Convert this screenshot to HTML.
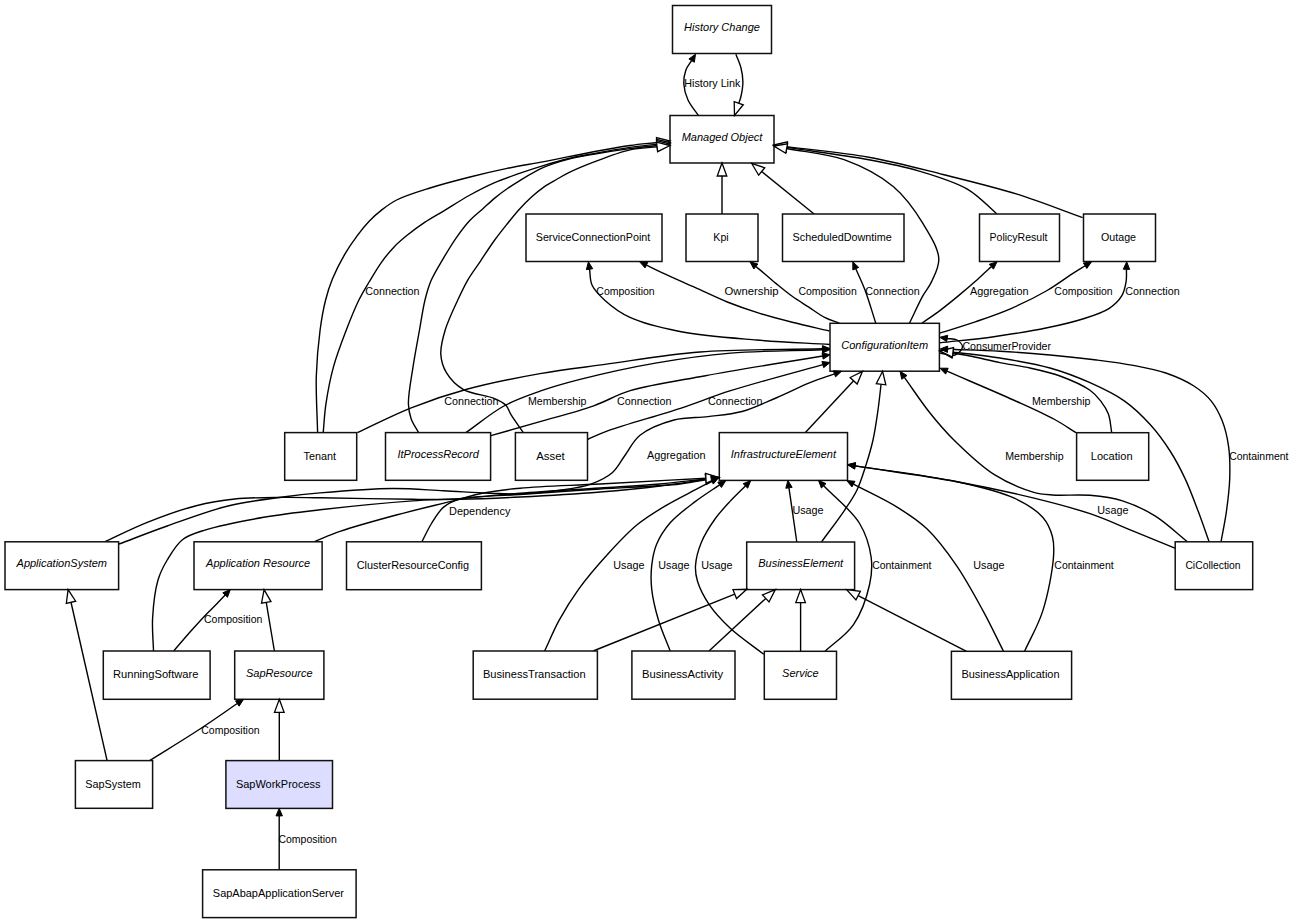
<!DOCTYPE html>
<html><head><meta charset="utf-8"><style>
html,body{margin:0;padding:0;background:#fff;}
svg{display:block;}
text{font-family:"Liberation Sans",sans-serif;font-size:11px;fill:#000;}
.i{font-style:italic;}
.box{fill:#fff;stroke:#111;stroke-width:1.5;}
.e{fill:none;stroke:#000;stroke-width:1.4;}
.af{fill:#000;stroke:#000;stroke-width:1;stroke-linejoin:miter;}
.ah{fill:#fff;stroke:#000;stroke-width:1.3;stroke-linejoin:miter;}
</style></head><body>
<svg width="1295" height="924" viewBox="0 0 1295 924">

<path class="e" d="M698.40,115.50 C694.93,110.33 690.45,105.44 688.00,100.00 C685.68,94.85 684.08,88.99 683.80,83.80 C683.55,79.10 684.36,74.21 685.80,70.20 C687.10,66.58 689.67,63.81 691.61,60.61"/>
<path class="e" d="M735.90,54.20 C737.60,58.80 739.83,63.33 741.00,68.00 C742.14,72.56 742.91,77.13 742.90,81.90 C742.89,86.95 741.63,93.61 740.70,97.50 C740.12,99.91 739.39,101.31 738.73,103.21"/>
<path class="e" d="M722.00,214.00 L722.00,176.00"/>
<path class="e" d="M814.10,214.00 L761.70,171.49"/>
<path class="e" d="M996.80,213.80 C987.10,205.63 979.37,196.12 967.70,189.30 C953.96,181.27 934.95,175.76 918.30,170.80 C901.97,165.94 887.44,163.18 868.80,159.70 C844.96,155.25 814.10,151.52 786.76,147.42"/>
<path class="e" d="M1082.60,217.70 C1060.77,209.87 1039.76,201.26 1017.10,194.20 C993.31,186.79 967.76,180.68 943.00,174.50 C918.32,168.34 894.27,161.79 868.80,157.20 C842.27,152.41 814.13,150.17 786.79,146.66"/>
<path class="e" d="M909.40,323.30 C913.87,314.17 918.63,303.48 922.80,295.90 C925.90,290.28 929.09,287.12 931.60,281.60 C934.61,274.98 939.31,266.87 938.80,258.50 C938.16,248.02 930.12,235.21 923.20,223.90 C915.46,211.25 905.90,197.22 893.50,186.80 C880.00,175.46 861.72,166.08 844.10,159.70 C826.15,153.20 805.81,152.23 786.66,148.49"/>
<path class="e" d="M317.60,432.60 C317.17,413.83 315.78,394.14 316.30,376.30 C316.78,360.10 318.28,343.73 320.10,330.00 C321.57,318.88 323.31,309.03 325.60,300.00 C327.54,292.33 329.48,286.25 332.40,279.10 C335.68,271.09 340.34,261.93 344.70,254.40 C348.62,247.63 352.82,241.54 357.10,235.80 C361.07,230.47 365.12,225.44 369.40,221.00 C373.38,216.87 377.35,213.35 381.80,209.90 C386.40,206.33 390.44,203.11 396.60,200.00 C405.29,195.61 418.29,191.71 430.00,188.00 C442.66,183.99 456.88,180.32 470.00,177.00 C482.57,173.82 494.71,170.97 507.10,168.40 C519.41,165.84 530.89,164.14 544.10,161.60 C559.39,158.66 578.26,154.52 593.50,151.70 C606.57,149.28 618.72,147.09 630.00,145.50 C639.68,144.13 648.05,143.47 657.08,142.45"/>
<path class="e" d="M323.20,432.60 C324.10,423.10 324.41,414.18 325.90,404.10 C327.62,392.53 330.05,379.33 333.40,367.10 C336.82,354.63 341.84,341.64 346.30,330.00 C350.36,319.40 354.63,308.69 358.90,300.00 C362.35,292.98 365.68,287.72 369.40,281.50 C373.29,274.99 377.47,267.78 381.80,261.80 C385.74,256.35 389.82,251.36 394.10,246.90 C398.08,242.76 401.85,239.57 406.50,235.80 C411.96,231.37 418.73,226.37 425.00,222.20 C431.07,218.16 436.79,215.15 443.50,211.10 C451.55,206.24 461.22,199.86 470.00,195.00 C478.28,190.41 486.37,186.23 494.70,182.60 C502.84,179.05 511.14,176.29 519.40,173.40 C527.60,170.53 535.84,167.79 544.10,165.30 C552.30,162.83 560.53,160.46 568.80,158.50 C577.00,156.56 584.45,155.27 593.50,153.60 C604.47,151.58 618.72,149.05 630.00,147.40 C639.69,145.98 648.06,145.19 657.10,144.08"/>
<path class="e" d="M418.60,432.60 C416.13,428.07 412.90,423.78 411.20,419.00 C409.52,414.27 408.59,410.20 408.40,404.10 C408.10,394.54 411.16,379.42 413.00,367.10 C414.85,354.72 417.40,341.71 419.50,330.00 C421.39,319.47 422.79,308.89 425.00,300.00 C426.81,292.68 428.36,286.92 431.20,280.30 C434.35,272.96 439.29,265.23 443.50,258.10 C447.54,251.26 451.46,244.63 455.90,238.30 C460.30,232.04 465.22,225.40 470.00,220.30 C474.08,215.95 478.28,212.90 482.40,209.20 C486.51,205.50 490.51,201.55 494.70,198.10 C498.75,194.76 502.93,191.72 507.10,188.80 C511.16,185.96 514.53,183.72 519.40,180.80 C526.15,176.75 535.69,170.86 544.10,167.20 C552.17,163.69 560.50,161.28 568.80,159.10 C576.97,156.96 584.45,155.79 593.50,154.20 C604.46,152.27 618.73,150.11 630.00,148.60 C639.69,147.30 648.06,146.52 657.09,145.49"/>
<path class="e" d="M523.30,432.60 C519.30,426.80 514.45,420.28 511.30,415.20 C508.97,411.44 508.36,407.83 505.70,405.10 C502.89,402.22 499.41,400.68 494.60,398.60 C486.92,395.28 471.47,394.27 463.10,389.30 C456.00,385.08 450.13,378.82 446.40,372.60 C443.03,366.97 441.18,360.72 440.80,354.10 C440.38,346.64 442.72,338.33 445.20,330.00 C448.06,320.40 453.64,309.04 457.80,300.00 C461.33,292.34 464.48,285.62 468.30,279.10 C471.91,272.94 475.88,267.90 480.00,261.80 C484.62,254.95 489.90,246.63 494.70,240.00 C498.91,234.18 502.93,229.19 507.10,224.00 C511.17,218.93 515.18,213.82 519.40,209.20 C523.43,204.79 527.57,200.60 531.80,196.80 C535.81,193.20 539.89,189.83 544.10,186.90 C548.13,184.10 552.36,181.88 556.50,179.50 C560.59,177.15 563.92,175.08 568.80,172.70 C575.54,169.41 584.39,165.66 593.50,162.20 C604.41,158.05 618.61,152.41 630.00,149.90 C639.58,147.79 648.05,147.91 657.08,146.92"/>
<path class="e" d="M830.00,344.50 C805.50,343.00 781.33,342.16 756.50,340.00 C730.88,337.77 701.36,335.68 678.60,331.20 C660.33,327.60 643.14,323.54 630.00,317.40 C619.84,312.65 611.67,306.41 605.00,300.40 C599.56,295.49 594.53,290.54 592.00,285.00 C589.75,280.06 590.37,274.47 589.55,269.21"/>
<path class="e" d="M829.50,331.00 C817.07,328.10 804.18,325.34 792.20,322.30 C780.97,319.45 770.47,316.76 759.70,313.40 C748.83,310.00 738.01,306.29 727.30,302.00 C716.41,297.64 705.71,292.26 694.90,287.40 C684.08,282.53 671.30,276.95 662.40,272.80 C656.12,269.87 651.77,267.65 646.45,265.07"/>
<path class="e" d="M839.50,323.30 C834.53,321.33 829.54,319.95 824.60,317.40 C819.17,314.60 813.80,310.41 808.40,306.90 C803.00,303.38 797.52,300.14 792.20,296.30 C786.68,292.33 781.29,287.82 775.90,283.40 C770.45,278.93 763.25,272.54 759.70,269.60 C757.99,268.18 757.13,267.53 755.84,266.50"/>
<path class="e" d="M875.80,323.30 C872.20,312.20 868.70,299.79 865.00,290.00 C861.99,282.03 858.85,275.79 855.78,268.68"/>
<path class="e" d="M921.90,323.30 C928.10,318.90 934.43,314.67 940.50,310.10 C946.56,305.54 952.41,300.76 958.30,295.90 C964.25,290.99 970.66,285.55 976.00,280.80 C980.57,276.73 985.80,271.63 988.50,269.20 C989.77,268.06 990.40,267.55 991.34,266.72"/>
<path class="e" d="M939.60,333.20 C951.73,329.33 963.98,325.76 976.00,321.60 C987.98,317.45 999.88,313.41 1011.60,308.30 C1023.58,303.08 1036.29,296.77 1047.10,290.50 C1056.79,284.87 1066.65,277.32 1073.70,272.80 C1078.27,269.87 1081.31,268.10 1085.12,265.74"/>
<path class="e" d="M939.60,342.90 C957.67,340.83 975.84,339.22 993.80,336.70 C1011.67,334.19 1031.19,331.10 1047.10,327.80 C1060.19,325.09 1071.72,322.51 1082.60,319.00 C1092.25,315.89 1102.43,312.84 1109.30,308.30 C1114.67,304.76 1118.89,300.57 1121.70,295.90 C1124.30,291.59 1125.33,286.24 1126.10,281.60 C1126.80,277.39 1126.35,273.40 1126.47,269.30"/>
<path class="e" d="M939.80,353.00 C944.87,353.67 951.08,356.40 955.00,355.00 C958.32,353.81 962.39,349.63 962.50,347.00 C962.60,344.63 959.45,341.43 957.00,340.00 C954.42,338.49 950.47,338.98 947.21,338.46"/>
<path class="e" d="M357.40,432.60 C375.33,424.33 392.91,415.03 411.20,407.80 C429.39,400.61 446.83,394.75 466.80,389.30 C489.37,383.15 516.25,377.82 540.00,373.60 C562.24,369.65 581.27,367.63 605.00,364.40 C633.66,360.50 666.25,354.64 700.00,352.00 C738.17,349.02 781.67,349.86 822.50,348.80"/>
<path class="e" d="M465.90,432.60 C478.57,423.73 491.00,413.05 503.90,406.00 C515.73,399.54 527.54,395.58 540.00,391.20 C552.88,386.67 564.49,383.36 580.00,379.40 C601.08,374.02 630.11,367.49 655.30,363.10 C680.31,358.74 704.19,355.33 730.60,353.10 C759.65,350.65 791.87,350.88 822.50,349.77"/>
<path class="e" d="M490.90,435.60 C507.27,430.97 523.28,426.54 540.00,421.70 C557.51,416.63 577.65,411.48 593.70,405.80 C607.17,401.03 615.60,395.13 630.20,390.70 C650.56,384.53 677.60,380.83 705.50,375.70 C740.20,369.32 783.57,362.53 822.60,355.95"/>
<path class="e" d="M587.50,439.50 C594.20,436.63 598.70,434.17 607.60,430.90 C624.21,424.79 658.44,415.56 680.40,408.30 C698.74,402.24 711.24,396.84 730.60,390.70 C756.59,382.47 792.06,373.26 822.78,364.55"/>
<path class="e" d="M119.00,544.00 C135.07,538.00 150.07,532.01 167.20,526.00 C186.46,519.24 208.91,510.59 229.00,505.70 C247.43,501.22 266.67,499.22 283.00,497.00 C296.47,495.17 305.59,494.13 320.00,492.90 C340.14,491.17 370.53,488.67 392.60,488.50 C411.09,488.36 427.01,490.00 443.60,490.80 C459.41,491.57 476.12,492.66 489.90,493.20 C501.01,493.64 509.27,494.35 520.00,494.00 C532.40,493.59 547.57,492.12 560.00,490.30 C571.01,488.69 581.74,487.40 590.90,484.10 C598.98,481.19 606.72,477.53 612.50,472.50 C617.85,467.84 620.55,461.40 624.90,455.50 C629.67,449.04 633.03,440.89 640.00,435.30 C648.47,428.51 662.41,423.10 674.00,420.00 C685.10,417.03 696.68,418.01 708.00,416.60 C719.35,415.18 730.84,414.51 742.00,411.50 C753.51,408.39 764.72,402.77 776.00,398.00 C787.39,393.18 799.52,386.95 810.00,382.70 C818.75,379.15 826.30,376.80 834.45,373.85"/>
<path class="e" d="M805.40,432.60 L853.64,380.81"/>
<path class="e" d="M821.50,541.90 C829.17,531.37 838.14,519.78 844.50,510.30 C849.47,502.89 853.48,497.31 857.00,490.00 C860.72,482.28 863.32,473.38 866.00,465.00 C868.65,456.71 871.05,448.77 873.00,440.00 C875.11,430.51 876.62,419.64 878.00,410.00 C879.27,401.09 880.04,392.81 881.07,384.21"/>
<path class="e" d="M1076.00,432.70 C1068.90,428.30 1063.06,424.05 1054.70,419.50 C1043.57,413.44 1029.77,407.38 1014.60,400.50 C995.03,391.63 969.46,380.95 946.88,371.18"/>
<path class="e" d="M1111.70,432.60 C1110.60,426.43 1110.41,419.57 1108.40,414.10 C1106.60,409.21 1103.85,405.06 1100.80,401.10 C1097.73,397.12 1094.88,393.75 1090.00,390.30 C1082.79,385.21 1070.18,379.75 1060.00,376.00 C1050.16,372.38 1040.05,370.24 1030.00,368.00 C1020.05,365.78 1009.98,364.60 1000.00,362.60 C989.98,360.60 978.63,357.67 970.00,356.00 C963.50,354.74 958.55,354.09 952.82,353.14"/>
<path class="e" d="M1209.10,541.80 C1205.50,531.73 1202.17,521.81 1198.30,511.60 C1194.26,500.93 1190.13,489.41 1185.30,479.10 C1180.69,469.25 1175.85,459.98 1170.10,451.00 C1164.30,441.94 1157.99,433.17 1150.60,425.00 C1142.90,416.49 1134.38,408.02 1124.60,401.10 C1114.30,393.81 1102.15,388.13 1090.00,382.70 C1077.33,377.04 1064.24,372.02 1050.00,368.00 C1034.42,363.61 1014.58,360.43 1000.00,358.00 C988.76,356.13 978.61,355.00 970.00,354.00 C963.52,353.24 958.62,352.86 952.94,352.29"/>
<path class="e" d="M1221.00,541.80 C1222.80,531.73 1224.96,521.88 1226.40,511.60 C1227.88,500.99 1229.33,489.95 1229.70,479.10 C1230.06,468.28 1230.03,456.76 1228.60,446.60 C1227.31,437.38 1225.20,428.46 1222.10,420.60 C1219.27,413.43 1215.94,406.83 1211.30,401.10 C1206.58,395.27 1200.76,390.43 1193.90,386.00 C1185.95,380.86 1175.69,376.40 1165.80,373.00 C1155.53,369.47 1144.52,367.53 1133.30,365.40 C1121.46,363.15 1109.50,361.65 1096.50,360.00 C1081.92,358.15 1065.79,356.45 1050.00,355.00 C1033.65,353.50 1016.87,352.15 1000.00,351.20 C982.75,350.23 965.06,349.92 947.59,349.28"/>
<path class="e" d="M1187.40,541.80 C1176.60,533.17 1166.24,522.87 1155.00,515.90 C1144.55,509.43 1133.57,504.24 1122.50,500.80 C1111.88,497.50 1101.27,496.29 1090.00,495.30 C1077.96,494.24 1062.85,495.82 1052.40,495.00 C1044.85,494.41 1040.39,494.27 1033.00,492.10 C1022.14,488.91 1006.87,482.62 994.40,474.70 C980.40,465.81 965.31,451.23 953.90,440.00 C944.52,430.77 937.86,422.84 930.00,413.00 C921.33,402.15 912.92,389.26 904.38,377.39"/>
<path class="e" d="M1175.50,548.40 C1161.43,542.63 1147.47,536.85 1133.30,531.10 C1118.97,525.28 1105.58,518.97 1090.00,513.70 C1072.46,507.76 1053.52,502.92 1033.00,497.90 C1009.30,492.10 983.31,486.56 955.80,481.50 C924.54,475.75 888.67,471.07 855.11,465.85"/>
<path class="e" d="M1024.60,651.30 C1030.63,637.90 1038.00,625.78 1042.70,611.10 C1047.96,594.67 1052.51,570.79 1053.50,557.00 C1054.10,548.59 1054.14,543.06 1052.40,536.50 C1050.61,529.78 1047.86,523.03 1042.70,517.20 C1036.14,509.80 1025.53,503.35 1013.70,497.90 C998.15,490.74 977.92,486.33 955.80,481.50 C927.01,475.21 888.67,471.07 855.11,465.85"/>
<path class="e" d="M1003.50,651.30 C996.73,637.90 990.69,624.83 983.20,611.10 C975.05,596.16 965.95,579.20 956.20,565.10 C947.09,551.92 937.33,538.74 926.90,528.80 C917.75,520.07 908.88,514.46 897.90,507.60 C884.91,499.48 868.25,491.94 853.43,484.10"/>
<path class="e" d="M825.10,651.30 C834.57,642.40 846.15,635.38 853.50,624.60 C861.28,613.18 866.99,596.36 869.70,584.00 C871.83,574.28 872.43,566.38 871.10,557.00 C869.56,546.18 865.96,533.89 859.30,523.00 C851.33,509.97 835.56,498.21 823.69,485.82"/>
<path class="e" d="M796.80,542.00 L788.97,487.82"/>
<path class="e" d="M763.80,654.30 C752.53,645.53 739.56,636.96 730.00,628.00 C721.82,620.34 714.74,612.77 709.20,604.60 C704.14,597.14 699.69,588.46 697.50,581.30 C695.80,575.74 695.16,571.39 695.50,565.70 C695.92,558.65 698.31,549.88 701.40,542.30 C704.67,534.29 710.02,526.02 715.00,519.00 C719.61,512.50 724.86,506.98 730.00,501.40 C735.00,495.97 740.27,491.08 745.41,485.92"/>
<path class="e" d="M670.20,651.00 C666.30,640.73 661.60,630.61 658.50,620.20 C655.46,609.97 652.75,598.78 651.70,589.10 C650.80,580.80 650.84,573.28 651.70,565.70 C652.53,558.36 653.73,551.20 656.60,544.30 C659.69,536.87 664.33,529.54 670.20,522.80 C676.90,515.11 687.00,507.88 695.50,501.40 C703.48,495.31 711.58,490.36 719.62,484.84"/>
<path class="e" d="M544.60,651.00 C549.47,640.73 553.65,630.33 559.20,620.20 C564.96,609.69 571.15,599.53 578.70,589.10 C587.12,577.47 597.91,564.95 607.90,554.00 C617.40,543.59 626.94,533.14 637.10,524.80 C646.47,517.11 656.42,511.22 666.30,505.30 C675.89,499.55 687.16,494.09 695.50,489.70 C701.72,486.43 706.39,484.06 711.84,481.25"/>
<path class="e" d="M104.50,541.80 C118.97,535.23 132.89,528.04 147.90,522.10 C163.42,515.96 180.86,509.61 196.20,505.70 C209.65,502.27 221.17,500.40 234.80,499.00 C249.92,497.44 267.99,497.57 283.00,497.40 C296.15,497.25 304.88,497.60 320.00,497.80 C343.93,498.12 387.11,499.09 412.70,499.30 C430.78,499.45 442.51,499.61 459.00,499.30 C477.94,498.94 498.30,498.09 520.00,497.00 C544.87,495.75 575.27,494.01 600.00,492.00 C621.45,490.26 641.35,488.28 660.00,486.00 C676.38,484.00 690.69,481.57 706.03,479.36"/>
<path class="e" d="M153.50,651.00 C153.20,640.03 151.96,629.44 152.60,618.10 C153.30,605.84 154.92,590.49 158.00,580.00 C160.33,572.07 163.31,566.50 167.20,560.00 C171.40,552.97 176.21,544.54 182.70,539.50 C189.11,534.52 196.19,532.83 205.80,529.80 C220.58,525.15 244.47,520.65 263.70,517.30 C282.53,514.02 298.88,512.22 320.00,509.80 C347.04,506.70 387.09,502.76 412.70,500.90 C430.77,499.58 442.52,499.74 459.00,498.60 C477.95,497.29 498.28,494.87 520.00,493.20 C544.85,491.29 575.25,489.63 600.00,488.00 C621.44,486.59 641.35,485.65 660.00,484.00 C676.36,482.55 690.65,480.62 705.98,478.93"/>
<path class="e" d="M313.90,541.80 C322.60,538.33 329.51,535.00 340.00,531.40 C355.27,526.15 377.96,520.00 397.20,514.80 C416.59,509.56 440.22,504.12 455.90,500.10 C466.41,497.40 472.58,495.09 482.20,493.20 C493.60,490.96 505.03,489.58 520.00,488.20 C541.69,486.20 571.47,485.53 600.00,484.00 C632.83,482.24 670.61,480.14 705.92,478.21"/>
<path class="e" d="M421.90,541.80 C425.00,535.87 427.63,529.73 431.20,524.00 C434.85,518.15 438.67,511.28 443.60,507.10 C448.08,503.30 451.90,501.29 459.00,499.30 C472.37,495.55 498.29,496.10 520.00,494.50 C544.86,492.67 573.33,490.75 600.00,489.00 C626.66,487.25 659.54,486.33 680.00,484.00 C692.85,482.54 700.80,480.55 711.20,478.83"/>
<path class="e" d="M593.20,651.00 L734.74,594.15"/>
<path class="e" d="M709.00,651.00 L765.76,598.43"/>
<path class="e" d="M800.60,651.30 L800.60,602.60"/>
<path class="e" d="M966.50,651.30 L858.16,595.55"/>
<path class="e" d="M107.10,760.60 L70.99,602.27"/>
<path class="e" d="M149.60,760.60 C166.40,750.07 184.55,739.11 200.00,729.00 C213.46,720.19 224.87,712.02 237.31,703.53"/>
<path class="e" d="M279.30,760.60 L279.30,712.30"/>
<path class="e" d="M274.40,651.00 L266.25,602.42"/>
<path class="e" d="M173.70,651.00 C179.37,644.43 185.20,637.50 190.70,631.30 C195.74,625.63 200.73,620.09 205.40,615.20 C209.47,610.94 213.59,607.11 217.10,603.50 C220.05,600.47 222.46,597.86 225.14,595.04"/>
<path class="e" d="M279.20,869.80 L279.20,815.90"/>
<rect class="box" x="672.5" y="5.5" width="99.0" height="48.0"/>
<rect class="box" x="670.0" y="115.5" width="104.0" height="47.5"/>
<rect class="box" x="526.0" y="214.0" width="136.0" height="47.5"/>
<rect class="box" x="686.0" y="214.0" width="72.0" height="47.5"/>
<rect class="box" x="782.5" y="214.0" width="121.5" height="47.5"/>
<rect class="box" x="979.5" y="214.0" width="80.0" height="47.5"/>
<rect class="box" x="1083.5" y="214.0" width="72.0" height="47.5"/>
<rect class="box" x="830.0" y="323.3" width="109.4" height="47.9"/>
<rect class="box" x="284.7" y="432.6" width="72.0" height="47.7"/>
<rect class="box" x="385.5" y="432.6" width="105.1" height="47.7"/>
<rect class="box" x="515.4" y="432.6" width="72.1" height="47.7"/>
<rect class="box" x="719.3" y="432.6" width="128.2" height="47.8"/>
<rect class="box" x="1076.6" y="432.7" width="72.1" height="47.6"/>
<rect class="box" x="5.0" y="541.8" width="113.6" height="47.8"/>
<rect class="box" x="194.0" y="541.8" width="128.1" height="47.8"/>
<rect class="box" x="346.5" y="541.8" width="134.9" height="47.9"/>
<rect class="box" x="746.7" y="542.0" width="107.9" height="47.6"/>
<rect class="box" x="1175.2" y="541.8" width="77.5" height="47.8"/>
<rect class="box" x="103.3" y="651.0" width="106.8" height="48.3"/>
<rect class="box" x="234.7" y="651.0" width="89.2" height="48.3"/>
<rect class="box" x="473.2" y="651.0" width="124.2" height="48.2"/>
<rect class="box" x="631.9" y="651.0" width="103.1" height="48.2"/>
<rect class="box" x="764.3" y="651.3" width="72.2" height="48.0"/>
<rect class="box" x="951.4" y="651.3" width="120.2" height="48.0"/>
<rect class="box" x="75.4" y="760.6" width="77.2" height="47.7"/>
<rect class="box" x="225.9" y="760.6" width="106.6" height="47.8" style="fill:#ddddff"/>
<rect class="box" x="202.6" y="869.8" width="153.5" height="47.8"/>
<path d="M695.50,54.20 L694.35,62.27 L688.88,58.95 Z" class="af"/>
<path d="M734.50,115.50 L734.20,101.65 L743.27,104.77 Z" class="ah"/>
<path d="M722.00,163.00 L726.80,176.00 L717.20,176.00 Z" class="ah"/>
<path d="M751.60,163.30 L764.72,167.76 L758.67,175.22 Z" class="ah"/>
<path d="M773.90,145.50 L787.47,142.68 L786.05,152.17 Z" class="ah"/>
<path d="M773.90,145.00 L787.41,141.90 L786.18,151.42 Z" class="ah"/>
<path d="M773.90,146.00 L787.58,143.78 L785.74,153.20 Z" class="ah"/>
<path d="M670.00,141.00 L657.62,147.22 L656.54,137.68 Z" class="ah"/>
<path d="M670.00,142.50 L657.68,148.85 L656.51,139.32 Z" class="ah"/>
<path d="M670.00,144.00 L657.63,150.25 L656.54,140.72 Z" class="ah"/>
<path d="M670.00,145.50 L657.60,151.69 L656.55,142.15 Z" class="ah"/>
<path d="M588.40,261.80 L592.71,268.72 L586.39,269.70 Z" class="af"/>
<path d="M639.70,261.80 L647.84,262.19 L645.05,267.95 Z" class="af"/>
<path d="M750.00,261.80 L757.85,264.01 L753.84,268.99 Z" class="af"/>
<path d="M852.80,261.80 L858.71,267.41 L852.84,269.95 Z" class="af"/>
<path d="M997.00,261.80 L993.44,269.14 L989.24,264.31 Z" class="af"/>
<path d="M1091.50,261.80 L1086.80,268.46 L1083.44,263.02 Z" class="af"/>
<path d="M1126.70,261.80 L1129.67,269.39 L1123.27,269.20 Z" class="af"/>
<path d="M939.80,337.30 L947.71,335.30 L946.71,341.62 Z" class="af"/>
<path d="M830.00,348.60 L822.59,351.99 L822.42,345.60 Z" class="af"/>
<path d="M830.00,349.50 L822.62,352.97 L822.39,346.57 Z" class="af"/>
<path d="M830.00,354.70 L823.14,359.10 L822.07,352.79 Z" class="af"/>
<path d="M830.00,362.50 L823.66,367.63 L821.91,361.47 Z" class="af"/>
<path d="M841.50,371.30 L835.54,376.86 L833.36,370.84 Z" class="af"/>
<path d="M862.50,371.30 L857.15,384.08 L850.13,377.54 Z" class="ah"/>
<path d="M882.60,371.30 L885.83,384.78 L876.30,383.64 Z" class="ah"/>
<path d="M940.00,368.20 L948.15,368.24 L945.61,374.12 Z" class="af"/>
<path d="M940.00,351.00 L953.61,348.40 L952.03,357.87 Z" class="ah"/>
<path d="M940.00,351.00 L953.41,347.52 L952.46,357.07 Z" class="ah"/>
<path d="M940.10,349.00 L947.71,346.08 L947.48,352.47 Z" class="af"/>
<path d="M900.00,371.30 L906.98,375.52 L901.78,379.26 Z" class="af"/>
<path d="M847.70,464.70 L855.60,462.69 L854.62,469.01 Z" class="af"/>
<path d="M847.70,464.70 L855.60,462.69 L854.62,469.01 Z" class="af"/>
<path d="M846.80,480.60 L854.93,481.27 L851.94,486.93 Z" class="af"/>
<path d="M818.50,480.40 L826.00,483.60 L821.38,488.03 Z" class="af"/>
<path d="M787.90,480.40 L792.14,487.37 L785.81,488.28 Z" class="af"/>
<path d="M750.70,480.60 L747.68,488.17 L743.14,483.66 Z" class="af"/>
<path d="M725.80,480.60 L721.43,487.48 L717.81,482.21 Z" class="af"/>
<path d="M718.50,477.80 L713.31,484.09 L710.37,478.40 Z" class="af"/>
<path d="M718.90,477.50 L706.72,484.11 L705.35,474.61 Z" class="ah"/>
<path d="M718.90,477.50 L706.50,483.70 L705.45,474.15 Z" class="ah"/>
<path d="M718.90,477.50 L706.18,483.00 L705.66,473.42 Z" class="ah"/>
<path d="M718.60,477.60 L711.72,481.98 L710.68,475.67 Z" class="af"/>
<path d="M746.80,589.30 L736.53,598.60 L732.95,589.69 Z" class="ah"/>
<path d="M775.30,589.60 L769.02,601.95 L762.50,594.91 Z" class="ah"/>
<path d="M800.60,589.60 L805.40,602.60 L795.80,602.60 Z" class="ah"/>
<path d="M846.60,589.60 L860.36,591.28 L855.96,599.82 Z" class="ah"/>
<path d="M68.10,589.60 L75.67,601.21 L66.31,603.34 Z" class="ah"/>
<path d="M243.50,699.30 L239.11,706.17 L235.50,700.89 Z" class="af"/>
<path d="M279.30,699.30 L284.10,712.30 L274.50,712.30 Z" class="ah"/>
<path d="M264.10,589.60 L270.98,601.63 L261.52,603.21 Z" class="ah"/>
<path d="M230.30,589.60 L227.46,597.24 L222.81,592.83 Z" class="af"/>
<path d="M279.20,808.40 L282.40,815.90 L276.00,815.90 Z" class="af"/>
<text x="722.0" y="30.9" text-anchor="middle" class="i">History Change</text>
<text x="722.0" y="140.7" text-anchor="middle" class="i">Managed Object</text>
<text x="593.0" y="240.8" text-anchor="middle" textLength="114.5" lengthAdjust="spacingAndGlyphs">ServiceConnectionPoint</text>
<text x="721.0" y="240.8" text-anchor="middle" textLength="15.3" lengthAdjust="spacingAndGlyphs">Kpi</text>
<text x="842.2" y="240.8" text-anchor="middle" textLength="99.2" lengthAdjust="spacingAndGlyphs">ScheduledDowntime</text>
<text x="1018.5" y="240.8" text-anchor="middle" textLength="58.0" lengthAdjust="spacingAndGlyphs">PolicyResult</text>
<text x="1118.5" y="240.8" text-anchor="middle" textLength="35.0" lengthAdjust="spacingAndGlyphs">Outage</text>
<text x="884.7" y="348.6" text-anchor="middle" class="i">ConfigurationItem</text>
<text x="319.7" y="459.5" text-anchor="middle" textLength="32.4" lengthAdjust="spacingAndGlyphs">Tenant</text>
<text x="438.1" y="457.9" text-anchor="middle" class="i">ItProcessRecord</text>
<text x="550.5" y="459.5" text-anchor="middle" textLength="28.5" lengthAdjust="spacingAndGlyphs">Asset</text>
<text x="783.4" y="457.9" text-anchor="middle" class="i">InfrastructureElement</text>
<text x="1111.7" y="459.5" text-anchor="middle" textLength="41.7" lengthAdjust="spacingAndGlyphs">Location</text>
<text x="61.8" y="567.1" text-anchor="middle" class="i">ApplicationSystem</text>
<text x="258.1" y="567.1" text-anchor="middle" class="i">Application Resource</text>
<text x="412.9" y="568.8" text-anchor="middle" textLength="112.4" lengthAdjust="spacingAndGlyphs">ClusterResourceConfig</text>
<text x="800.7" y="567.2" text-anchor="middle" class="i">BusinessElement</text>
<text x="1213.0" y="568.7" text-anchor="middle" textLength="55.2" lengthAdjust="spacingAndGlyphs">CiCollection</text>
<text x="155.7" y="678.1" text-anchor="middle" textLength="85.5" lengthAdjust="spacingAndGlyphs">RunningSoftware</text>
<text x="279.3" y="676.5" text-anchor="middle" class="i">SapResource</text>
<text x="534.3" y="678.1" text-anchor="middle" textLength="102.7" lengthAdjust="spacingAndGlyphs">BusinessTransaction</text>
<text x="682.5" y="678.1" text-anchor="middle" textLength="81.2" lengthAdjust="spacingAndGlyphs">BusinessActivity</text>
<text x="800.4" y="676.7" text-anchor="middle" class="i">Service</text>
<text x="1010.5" y="678.3" text-anchor="middle" textLength="98.1" lengthAdjust="spacingAndGlyphs">BusinessApplication</text>
<text x="113.0" y="787.5" text-anchor="middle" textLength="55.4" lengthAdjust="spacingAndGlyphs">SapSystem</text>
<text x="278.2" y="787.5" text-anchor="middle" textLength="84.6" lengthAdjust="spacingAndGlyphs">SapWorkProcess</text>
<text x="278.4" y="896.7" text-anchor="middle" textLength="131.1" lengthAdjust="spacingAndGlyphs">SapAbapApplicationServer</text>
<text x="712.3" y="87.0" text-anchor="middle" textLength="56.1" lengthAdjust="spacingAndGlyphs">History Link</text>
<text x="392.4" y="295.0" text-anchor="middle" textLength="54.4" lengthAdjust="spacingAndGlyphs">Connection</text>
<text x="625.5" y="295.0" text-anchor="middle" textLength="58.3" lengthAdjust="spacingAndGlyphs">Composition</text>
<text x="751.5" y="295.0" text-anchor="middle" textLength="54.0" lengthAdjust="spacingAndGlyphs">Ownership</text>
<text x="827.6" y="295.0" text-anchor="middle" textLength="58.3" lengthAdjust="spacingAndGlyphs">Composition</text>
<text x="892.5" y="295.0" text-anchor="middle" textLength="54.4" lengthAdjust="spacingAndGlyphs">Connection</text>
<text x="999.2" y="295.0" text-anchor="middle" textLength="58.6" lengthAdjust="spacingAndGlyphs">Aggregation</text>
<text x="1083.5" y="295.0" text-anchor="middle" textLength="58.3" lengthAdjust="spacingAndGlyphs">Composition</text>
<text x="1152.5" y="295.0" text-anchor="middle" textLength="54.4" lengthAdjust="spacingAndGlyphs">Connection</text>
<text x="1006.7" y="350.0" text-anchor="middle" textLength="88.6" lengthAdjust="spacingAndGlyphs">ConsumerProvider</text>
<text x="471.4" y="405.0" text-anchor="middle" textLength="54.4" lengthAdjust="spacingAndGlyphs">Connection</text>
<text x="557.2" y="405.0" text-anchor="middle" textLength="58.5" lengthAdjust="spacingAndGlyphs">Membership</text>
<text x="644.2" y="405.0" text-anchor="middle" textLength="54.4" lengthAdjust="spacingAndGlyphs">Connection</text>
<text x="735.3" y="405.0" text-anchor="middle" textLength="54.4" lengthAdjust="spacingAndGlyphs">Connection</text>
<text x="1061.2" y="405.0" text-anchor="middle" textLength="58.5" lengthAdjust="spacingAndGlyphs">Membership</text>
<text x="676.2" y="458.5" text-anchor="middle" textLength="58.6" lengthAdjust="spacingAndGlyphs">Aggregation</text>
<text x="1034.4" y="459.5" text-anchor="middle" textLength="58.5" lengthAdjust="spacingAndGlyphs">Membership</text>
<text x="1258.8" y="459.5" text-anchor="middle" textLength="59.3" lengthAdjust="spacingAndGlyphs">Containment</text>
<text x="479.7" y="514.5" text-anchor="middle" textLength="61.4" lengthAdjust="spacingAndGlyphs">Dependency</text>
<text x="808.0" y="514.3" text-anchor="middle" textLength="31.2" lengthAdjust="spacingAndGlyphs">Usage</text>
<text x="1112.9" y="514.3" text-anchor="middle" textLength="31.2" lengthAdjust="spacingAndGlyphs">Usage</text>
<text x="628.9" y="569.0" text-anchor="middle" textLength="31.2" lengthAdjust="spacingAndGlyphs">Usage</text>
<text x="673.9" y="569.0" text-anchor="middle" textLength="31.2" lengthAdjust="spacingAndGlyphs">Usage</text>
<text x="716.9" y="569.0" text-anchor="middle" textLength="31.2" lengthAdjust="spacingAndGlyphs">Usage</text>
<text x="901.8" y="569.0" text-anchor="middle" textLength="59.3" lengthAdjust="spacingAndGlyphs">Containment</text>
<text x="988.9" y="569.0" text-anchor="middle" textLength="31.2" lengthAdjust="spacingAndGlyphs">Usage</text>
<text x="1084.0" y="569.0" text-anchor="middle" textLength="59.3" lengthAdjust="spacingAndGlyphs">Containment</text>
<text x="233.2" y="623.0" text-anchor="middle" textLength="58.3" lengthAdjust="spacingAndGlyphs">Composition</text>
<text x="230.4" y="733.6" text-anchor="middle" textLength="58.3" lengthAdjust="spacingAndGlyphs">Composition</text>
<text x="307.6" y="842.5" text-anchor="middle" textLength="58.3" lengthAdjust="spacingAndGlyphs">Composition</text>
</svg></body></html>
